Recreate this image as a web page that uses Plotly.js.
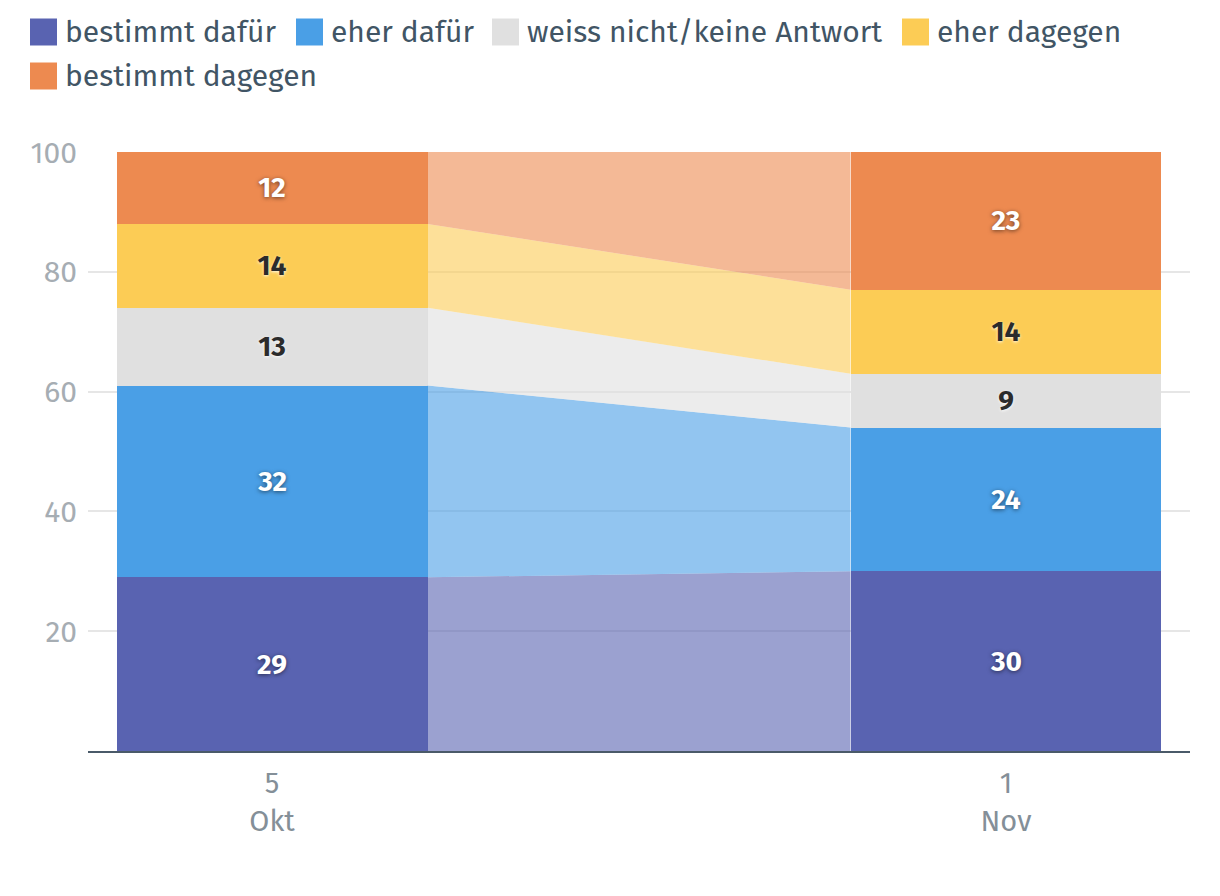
<!DOCTYPE html>
<html>
<head>
<meta charset="utf-8">
<script src="https://cdn.plot.ly/plotly-3.0.1.min.js"></script>
<style>
  html, body { margin: 0; padding: 0; background: #ffffff; }
  #chart { width: 1220px; height: 896px; }
</style>
</head>
<body>
<div id="chart"></div>
<script>
// ---- data ----
const tickDay = ["5", "1"];
const tickMonth = ["Okt", "Nov"];
const seriesNames = ["bestimmt dafür", "eher dafür", "weiss nicht/keine Antwort", "eher dagegen", "bestimmt dagegen"];
const bestimmtDafuer = [29, 30];
const eherDafuer = [32, 24];
const weissNicht = [13, 9];
const eherDagegen = [14, 14];
const bestimmtDagegen = [12, 23];

// ---- styles ----
const seriesValues = [bestimmtDafuer, eherDafuer, weissNicht, eherDagegen, bestimmtDagegen];
const colors = [[89, 99, 177], [74, 159, 230], [224, 224, 224], [252, 204, 85], [237, 138, 80]];
const labelDark = [false, false, true, true, false];
const FONT = "'Fira Sans', 'Noto Sans', sans-serif";

const xs = tickDay.map((d, i) => i);
const barW = 0.4237;
const W = 1220, H = 896;
const M = { l: 88, r: 30, t: 152, b: 145 };
const PW = W - M.l - M.r, PH = H - M.t - M.b;
const px2x = p => (p - M.l) / PW;
const py2y = p => (H - M.b - p) / PH;

const rgb = (c, a) => a === undefined ? `rgb(${c[0]},${c[1]},${c[2]})` : `rgba(${c[0]},${c[1]},${c[2]},${a})`;

const traces = [];
// connecting bands
const cum = xs.map(() => 0);
seriesValues.forEach((vals, s) => {
  const lo = cum.slice();
  const hi = lo.map((v, i) => v + vals[i]);
  const xa = xs[0] + barW / 2, xb = xs[1] - barW / 2;
  traces.push({
    type: 'scatter', mode: 'lines',
    x: [xa, xa, xb, xb, xa],
    y: [lo[0], hi[0], hi[1], lo[1], lo[0]],
    fill: 'toself', fillcolor: rgb(colors[s], 0.6),
    line: { width: 0 }, hoverinfo: 'skip', showlegend: false
  });
  hi.forEach((v, i) => cum[i] = v);
});
// bars
seriesValues.forEach((vals, s) => {
  traces.push({
    type: 'bar', name: seriesNames[s],
    x: xs, y: vals, width: barW,
    marker: { color: rgb(colors[s]), line: { width: 0 } },
    texttemplate: '%{y}', textposition: 'inside', insidetextanchor: 'middle',
    textangle: 0, constraintext: 'none',
    textfont: {
      family: FONT, size: 28, weight: 'bold',
      color: labelDark[s] ? '#2b2b2b' : '#ffffff',
      shadow: labelDark[s] ? '0px 1px 3px rgba(255,255,255,0.9)' : '0px 1px 4px rgba(0,0,0,0.55)'
    },
    showlegend: false, hoverinfo: 'skip'
  });
});

// manual legend (swatches + labels)
const legendPos = [[30, 32], [296, 32], [492, 32], [902, 32], [30, 76]];
const shapes = [], annotations = [];
seriesNames.forEach((n, s) => {
  const [lx, ly] = legendPos[s];
  shapes.push({
    type: 'rect', xref: 'paper', yref: 'paper',
    x0: px2x(lx), x1: px2x(lx + 27), y0: py2y(ly - 13.5), y1: py2y(ly + 13.5),
    fillcolor: rgb(colors[s]), line: { width: 0 }
  });
  annotations.push({
    xref: 'paper', yref: 'paper', x: px2x(lx + 33), y: py2y(ly),
    xanchor: 'left', yanchor: 'middle', showarrow: false, text: n,
    font: { family: FONT, size: 30, color: '#415565' }
  });
});

const layout = {
  width: W, height: H,
  margin: M,
  paper_bgcolor: '#ffffff', plot_bgcolor: '#ffffff',
  barmode: 'stack', bargap: 0,
  showlegend: false,
  font: { family: FONT },
  xaxis: {
    range: [-0.2507, 1.2507],
    tickvals: xs,
    ticktext: xs.map(i => tickDay[i] + '<br>' + tickMonth[i]),
    tickfont: { family: FONT, size: 29, color: '#848f98' },
    ticks: '', showgrid: false, zeroline: false,
    showline: true, linecolor: '#4a5a69', linewidth: 2,
    ticklabelstandoff: 5, fixedrange: true
  },
  yaxis: {
    range: [0, 100],
    tickvals: [20, 40, 60, 80, 100],
    tickfont: { family: FONT, size: 30, color: '#a6adb3' },
    ticks: '', showgrid: true, gridcolor: '#e6e6e6', gridwidth: 2,
    zeroline: false, showline: false,
    ticklabelstandoff: 10, fixedrange: true
  },
  shapes: shapes,
  annotations: annotations
};

Plotly.newPlot('chart', traces, layout, { displayModeBar: false, staticPlot: true });
</script>
</body>
</html>
